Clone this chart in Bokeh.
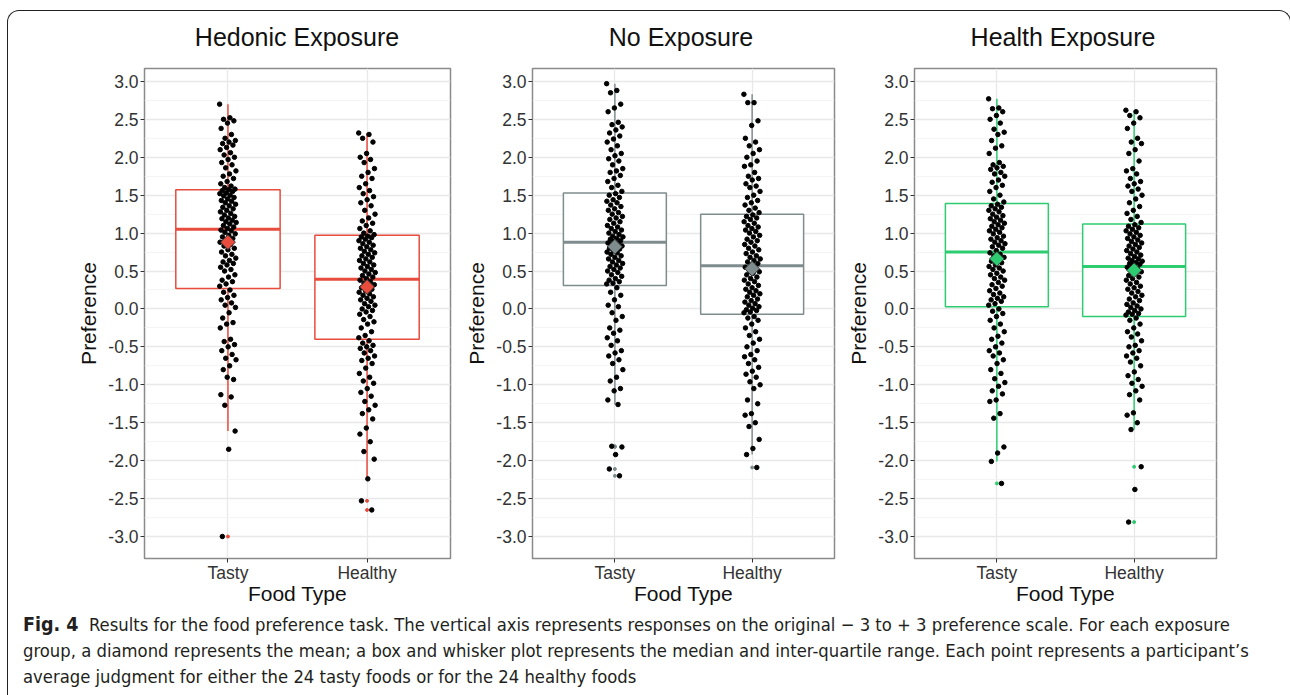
import math
from bokeh.plotting import figure
from bokeh.models import FixedTicker, PrintfTickFormatter, Div
from bokeh.layouts import row, column
from bokeh.embed import file_html
from bokeh.resources import INLINE

# ---------------- data ----------------
panel_titles = ["Hedonic Exposure", "No Exposure", "Health Exposure"]
food_types = ["Tasty", "Healthy"]
panel_colors = ["#E74C3C", "#7F8C8D", "#2ECC71"]

hedonic_tasty = [2.70, 2.52, 2.50, 2.48, 2.45, 2.38, 2.30, 2.25, 2.22, 2.20, 2.18, 2.16, 2.13, 2.10, 2.06, 2.03, 2.00, 1.97, 1.93, 1.90, 1.86, 1.82, 1.78, 1.75, 1.72, 1.68, 1.65, 1.62, 1.60, 1.58,
                 1.57, 1.56, 1.55, 1.53, 1.52, 1.50, 1.49, 1.47, 1.45, 1.43, 1.42, 1.40, 1.38, 1.36, 1.34, 1.32, 1.30, 1.28, 1.26, 1.24, 1.22, 1.20, 1.19, 1.17, 1.15, 1.14, 1.12, 1.10, 1.08, 1.06,
                 1.04, 1.03, 1.01, 0.99, 0.97, 0.95, 0.93, 0.90, 0.88, 0.85, 0.83, 0.80, 0.78, 0.75, 0.72, 0.70, 0.67, 0.64, 0.62, 0.60, 0.58, 0.55, 0.52, 0.50, 0.45, 0.42, 0.38, 0.36, 0.33, 0.30,
                 0.25, 0.22, 0.18, 0.15, 0.12, 0.08, 0.05, 0.02, -0.05, -0.12, -0.18, -0.20, -0.25, -0.40, -0.43, -0.47, -0.50, -0.55, -0.60, -0.65, -0.67, -0.75, -0.80, -0.93, -0.90, -1.13, -1.16, -1.27, -1.61, -1.85, -3.00]
hedonic_healthy = [2.32, 2.30, 2.25, 2.20, 2.05, 2.00, 1.97, 1.93, 1.85, 1.80, 1.75, 1.72, 1.65, 1.60, 1.56, 1.52, 1.48, 1.44, 1.40, 1.36, 1.30, 1.25, 1.20, 1.16, 1.13, 1.10, 1.06, 1.03, 1.00, 0.98,
                   0.96, 0.95, 0.94, 0.92, 0.90, 0.88, 0.86, 0.84, 0.82, 0.80, 0.78, 0.76, 0.74, 0.72, 0.70, 0.68, 0.66, 0.64, 0.62, 0.60, 0.58, 0.56, 0.54, 0.52, 0.50, 0.48, 0.46, 0.44, 0.42, 0.40,
                   0.38, 0.36, 0.34, 0.32, 0.30, 0.28, 0.26, 0.24, 0.22, 0.20, 0.18, 0.16, 0.14, 0.12, 0.10, 0.07, 0.05, 0.03, 0.00, -0.02, -0.04, -0.07, -0.10, -0.14, -0.17, -0.20, -0.25, -0.30, -0.35, -0.38,
                   -0.42, -0.45, -0.48, -0.50, -0.52, -0.55, -0.58, -0.62, -0.65, -0.68, -0.72, -0.78, -0.85, -0.90, -0.95, -0.98, -1.05, -1.10, -1.15, -1.22, -1.27, -1.33, -1.38, -1.45, -1.57, -1.65, -1.75, -1.88, -1.98, -2.24, -2.53, -2.65]
no_tasty = [2.97, 2.88, 2.85, 2.70, 2.65, 2.60, 2.46, 2.43, 2.40, 2.36, 2.32, 2.28, 2.24, 2.20, 2.15, 2.10, 2.05, 2.02, 1.98, 1.95, 1.90, 1.85, 1.82, 1.80, 1.76, 1.72, 1.68, 1.63, 1.60, 1.55,
            1.52, 1.50, 1.47, 1.44, 1.42, 1.40, 1.37, 1.35, 1.32, 1.30, 1.27, 1.25, 1.22, 1.20, 1.18, 1.15, 1.13, 1.10, 1.08, 1.06, 1.04, 1.02, 1.00, 0.98, 0.96, 0.95, 0.93, 0.92, 0.90, 0.89,
            0.87, 0.86, 0.85, 0.83, 0.82, 0.80, 0.79, 0.77, 0.75, 0.74, 0.72, 0.70, 0.68, 0.66, 0.64, 0.62, 0.60, 0.58, 0.56, 0.54, 0.52, 0.50, 0.48, 0.45, 0.43, 0.40, 0.38, 0.36, 0.34, 0.33,
            0.28, 0.22, 0.18, 0.12, 0.05, 0.03, -0.05, -0.10, -0.15, -0.25, -0.28, -0.32, -0.38, -0.42, -0.48, -0.55, -0.58, -0.62, -0.67, -0.72, -0.80, -0.90, -0.95, -1.05, -1.08, -1.20, -1.26, -1.81, -1.82, -1.92, -2.11, -2.20]
no_healthy = [2.83, 2.72, 2.72, 2.48, 2.42, 2.25, 2.20, 2.15, 2.10, 2.05, 2.00, 1.95, 1.90, 1.88, 1.80, 1.75, 1.72, 1.70, 1.65, 1.62, 1.60, 1.55, 1.50, 1.47, 1.43, 1.40, 1.37, 1.33, 1.30, 1.27,
              1.24, 1.22, 1.20, 1.18, 1.15, 1.13, 1.10, 1.08, 1.06, 1.04, 1.02, 1.00, 0.97, 0.95, 0.92, 0.90, 0.88, 0.85, 0.83, 0.80, 0.78, 0.75, 0.73, 0.70, 0.68, 0.66, 0.64, 0.62, 0.60, 0.58,
              0.55, 0.53, 0.51, 0.49, 0.47, 0.45, 0.42, 0.40, 0.38, 0.36, 0.33, 0.31, 0.28, 0.26, 0.24, 0.22, 0.20, 0.18, 0.16, 0.13, 0.11, 0.09, 0.07, 0.05, 0.03, 0.01, -0.01, -0.02, -0.04, -0.05,
              -0.10, -0.12, -0.15, -0.20, -0.25, -0.30, -0.35, -0.40, -0.45, -0.50, -0.55, -0.60, -0.63, -0.67, -0.72, -0.77, -0.82, -0.86, -0.90, -0.96, -1.00, -1.05, -1.20, -1.25, -1.38, -1.40, -1.50, -1.55, -1.72, -1.84, -1.92, -2.09]
health_tasty = [2.77, 2.65, 2.64, 2.60, 2.55, 2.50, 2.45, 2.37, 2.33, 2.30, 2.22, 2.15, 2.12, 2.05, 1.93, 1.90, 1.88, 1.86, 1.84, 1.80, 1.78, 1.75, 1.70, 1.67, 1.63, 1.60, 1.55, 1.50, 1.45, 1.41,
                1.38, 1.36, 1.34, 1.32, 1.30, 1.28, 1.25, 1.23, 1.21, 1.19, 1.17, 1.15, 1.13, 1.11, 1.09, 1.07, 1.05, 1.03, 1.01, 0.99, 0.96, 0.94, 0.92, 0.90, 0.88, 0.86, 0.84, 0.82, 0.80, 0.77,
                0.74, 0.72, 0.70, 0.68, 0.65, 0.63, 0.61, 0.58, 0.56, 0.54, 0.52, 0.50, 0.47, 0.45, 0.42, 0.40, 0.38, 0.35, 0.32, 0.30, 0.27, 0.24, 0.21, 0.19, 0.16, 0.14, 0.12, 0.10, 0.07, 0.05,
                0.00, -0.03, -0.06, -0.10, -0.15, -0.20, -0.25, -0.30, -0.36, -0.40, -0.45, -0.50, -0.55, -0.58, -0.62, -0.67, -0.72, -0.80, -0.85, -0.92, -0.97, -1.02, -1.08, -1.12, -1.20, -1.22, -1.38, -1.44, -1.82, -1.90, -2.01, -2.30]
health_healthy = [2.62, 2.60, 2.55, 2.52, 2.45, 2.38, 2.25, 2.20, 2.18, 2.10, 2.05, 1.95, 1.85, 1.82, 1.78, 1.72, 1.68, 1.65, 1.62, 1.58, 1.55, 1.50, 1.45, 1.40, 1.35, 1.30, 1.26, 1.22, 1.18, 1.14,
                  1.11, 1.09, 1.07, 1.05, 1.03, 1.01, 0.99, 0.97, 0.95, 0.93, 0.91, 0.89, 0.87, 0.85, 0.83, 0.81, 0.79, 0.77, 0.75, 0.73, 0.71, 0.69, 0.67, 0.66, 0.64, 0.63, 0.61, 0.60, 0.59, 0.58,
                  0.55, 0.53, 0.51, 0.49, 0.47, 0.44, 0.42, 0.40, 0.38, 0.35, 0.33, 0.30, 0.28, 0.26, 0.23, 0.21, 0.18, 0.16, 0.13, 0.11, 0.08, 0.06, 0.04, 0.02, 0.00, -0.02, -0.04, -0.06, -0.07, -0.08,
                  -0.12, -0.15, -0.20, -0.25, -0.30, -0.33, -0.37, -0.42, -0.48, -0.50, -0.55, -0.58, -0.62, -0.65, -0.70, -0.75, -0.83, -0.88, -0.93, -0.98, -1.02, -1.08, -1.13, -1.20, -1.37, -1.40, -1.50, -1.59, -2.08, -2.38, -2.81]

# box statistics per panel: [Tasty, Healthy]
box_q1 = [[0.27, -0.40], [0.31, -0.07], [0.03, -0.10]]
box_median = [[1.05, 0.39], [0.88, 0.57], [0.75, 0.56]]
box_q3 = [[1.57, 0.97], [1.53, 1.25], [1.39, 1.12]]
whisker_low = [[-1.61, -2.24], [-1.26, -1.92], [-2.01, -1.59]]
whisker_high = [[2.70, 2.32], [2.97, 2.83], [2.77, 2.62]]
group_mean = [[0.88, 0.29], [0.82, 0.53], [0.66, 0.51]]

y_ticks = [-3.0, -2.5, -2.0, -1.5, -1.0, -0.5, 0.0, 0.5, 1.0, 1.5, 2.0, 2.5, 3.0]
y_minor = [-2.75, -2.25, -1.75, -1.25, -0.75, -0.25, 0.25, 0.75, 1.25, 1.75, 2.25, 2.75]

points = [[hedonic_tasty, hedonic_healthy], [no_tasty, no_healthy], [health_tasty, health_healthy]]

# ---------------- layout / style ----------------
FONT = "Liberation Sans"
widths = [454, 382, 446]
lefts = [136, 66, 66]
rights = [12, 10, 74]
JIT = 0.06
BOX_HALF = 0.375
TITLE_H = 40
FIG_H = 560
TOP = 17
FRAME_W = 306


def jitter(n):
    return [((i * 0.6180339887) % 1.0 - 0.5) * 2 * JIT for i in range(n)]


panels = []
for k in range(3):
    col = panel_colors[k]
    p = figure(width=widths[k], height=FIG_H, x_range=(0.4, 2.6), y_range=(-3.29, 3.17),
               output_backend="svg", toolbar_location=None,
               min_border_left=lefts[k], min_border_right=rights[k],
               min_border_top=TOP, min_border_bottom=FIG_H - TOP - 490)
    p.outline_line_color = "#8a8a8a"
    p.outline_line_width = 1.5
    p.background_fill_color = "white"
    p.border_fill_color = None

    p.xaxis.ticker = FixedTicker(ticks=[1, 2])
    p.xaxis.major_label_overrides = {1: food_types[0], 2: food_types[1]}
    p.yaxis.ticker = FixedTicker(ticks=y_ticks, minor_ticks=y_minor)
    p.yaxis.formatter = PrintfTickFormatter(format="%.1f")
    p.xaxis.axis_label = "Food Type"
    p.yaxis.axis_label = "Preference"
    for ax in (p.xaxis, p.yaxis):
        ax.axis_line_color = None
        ax.major_tick_line_color = "#333333"
        ax.major_tick_in = 0
        ax.major_tick_out = 4
        ax.minor_tick_line_color = None
        ax.major_label_text_font = FONT
        ax.major_label_text_font_size = "17.5px"
        ax.major_label_text_color = "#333333"
        ax.axis_label_text_font = FONT
        ax.axis_label_text_font_size = "21px"
        ax.axis_label_text_font_style = "normal"
        ax.axis_label_text_color = "#111111"
    p.yaxis.major_label_standoff = 2
    p.yaxis.axis_label_standoff = 5
    p.xaxis.major_label_standoff = 0
    p.xaxis.axis_label_standoff = -4

    p.xgrid.ticker = FixedTicker(ticks=[1, 2])
    p.xgrid.grid_line_color = "#E8E8E8"
    p.xgrid.grid_line_width = 1.3
    p.ygrid.grid_line_color = "#E8E8E8"
    p.ygrid.grid_line_width = 1.3
    p.ygrid.minor_grid_line_color = "#F1F1F1"
    p.ygrid.minor_grid_line_width = 0.8

    for j in range(2):
        xc = j + 1
        q1, md, q3 = box_q1[k][j], box_median[k][j], box_q3[k][j]
        lo, hi = whisker_low[k][j], whisker_high[k][j]
        vals = points[k][j]
        p.segment(x0=[xc, xc], y0=[q3, q1], x1=[xc, xc], y1=[hi, lo], line_color=col, line_width=1.5)
        p.quad(left=[xc - BOX_HALF], right=[xc + BOX_HALF], bottom=[q1], top=[q3],
               fill_color="white", line_color=col, line_width=1.5)
        p.segment(x0=[xc - BOX_HALF], y0=[md], x1=[xc + BOX_HALF], y1=[md], line_color=col, line_width=3)
        outl = [v for v in vals if v < lo or v > hi]
        p.scatter(x=[xc] * len(outl), y=outl, size=3, color=col)
        p.scatter(x=[xc + d for d in jitter(len(vals))], y=vals, size=4.5, color="black")
        p.scatter(x=[xc], y=[group_mean[k][j]], marker="square", angle=math.pi / 4, size=10.5,
                  fill_color=col, line_color="#333333", line_width=1)

    title = Div(
        text=('<div style="display:block;width:%dpx;font-family:\'Liberation Sans\',Arial,sans-serif;'
              'font-size:25px;line-height:25px;padding-top:14px;text-align:center;color:#111111;'
              'white-space:nowrap">%s</div>' % (FRAME_W, panel_titles[k])),
        width=FRAME_W, height=TITLE_H, margin=(0, rights[k], 0, lefts[k]))
    panels.append(column(title, p, spacing=0))

caption = Div(
    text=('<b style="font-size:19.5px">Fig. 4</b>&nbsp; Results for the food preference task. The vertical axis represents '
          'responses on the original \u2212 3 to + 3 preference scale. For each exposure<br>'
          'group, a diamond represents the mean; a box and whisker plot represents the median and inter-quartile range. '
          'Each point represents a participant\u2019s<br>'
          'average judgment for either the 24 tasty foods or for the 24 healthy foods'),
    width=1265, height=84, margin=(1, 0, 0, 15),
    styles={"font-family": "'Liberation Sans Narrow', 'DejaVu Sans Condensed', sans-serif",
            "font-size": "18.3px", "line-height": "26px", "color": "#231F20", "white-space": "nowrap"})

layout = column(row(*panels, spacing=0), caption, margin=(10, 0, 0, 7), spacing=0,
                styles={"border": "1.5px solid #222", "border-bottom": "none",
                        "border-radius": "12px 12px 0 0"})

open("out.html", "w").write(file_html(layout, INLINE))
